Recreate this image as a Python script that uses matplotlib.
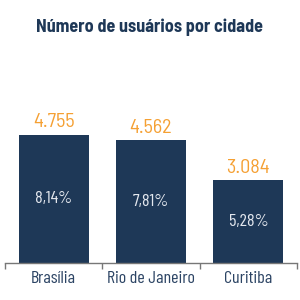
import matplotlib
matplotlib.use('Agg')
import matplotlib.pyplot as plt
import numpy as np

plt.rcParams['font.family'] = ['Barlow Semi Condensed', 'DejaVu Sans']

cidades = ['Brasília', 'Rio de Janeiro', 'Curitiba']
usuarios = [4755, 4562, 3084]
rotulos = ['4.755', '4.562', '3.084']
percentuais = ['8,14%', '7,81%', '5,28%']

cor_barra = '#1e3857'
cor_valor = '#f5a033'
cor_texto = '#2c4464'
fonte_estreita = ['Barlow Condensed', 'DejaVu Sans']

fig = plt.figure(figsize=(3, 3), dpi=100)
ax = fig.add_axes([0.017, 0.123, 0.973, 0.54])

x = np.arange(len(cidades))
ax.bar(x, usuarios, width=0.72, color=cor_barra, zorder=2)

for xi, v, r, p in zip(x, usuarios, rotulos, percentuais):
    ax.text(xi, v + 120, r, ha='center', va='bottom', color=cor_valor, fontsize=14.5)
    ax.text(xi, v / 2, p, ha='center', va='center', color='#e3e7ee', fontsize=13,
            family=fonte_estreita)

ax.set_xlim(-0.5, 2.5)
ax.set_ylim(0, 6000)
ax.set_yticks([])
ax.set_xticks([-0.5, 0.5, 1.5, 2.5])
ax.set_xticklabels([])
ax.set_xticks(x, minor=True)
ax.set_xticklabels(cidades, minor=True, fontsize=13, color=cor_texto, family=fonte_estreita)
ax.tick_params(axis='x', which='major', direction='out', length=4, color='#777777', width=1)
ax.tick_params(axis='x', which='minor', length=0, pad=6)
for s in ['top', 'left', 'right']:
    ax.spines[s].set_visible(False)
ax.spines['bottom'].set_color('#777777')
ax.spines['bottom'].set_linewidth(1)

fig.text(0.5, 0.908, 'Número de usuários por cidade', ha='center', va='center',
         fontsize=13, fontweight='bold', color=cor_barra)

fig.savefig('out.png', dpi=100)
